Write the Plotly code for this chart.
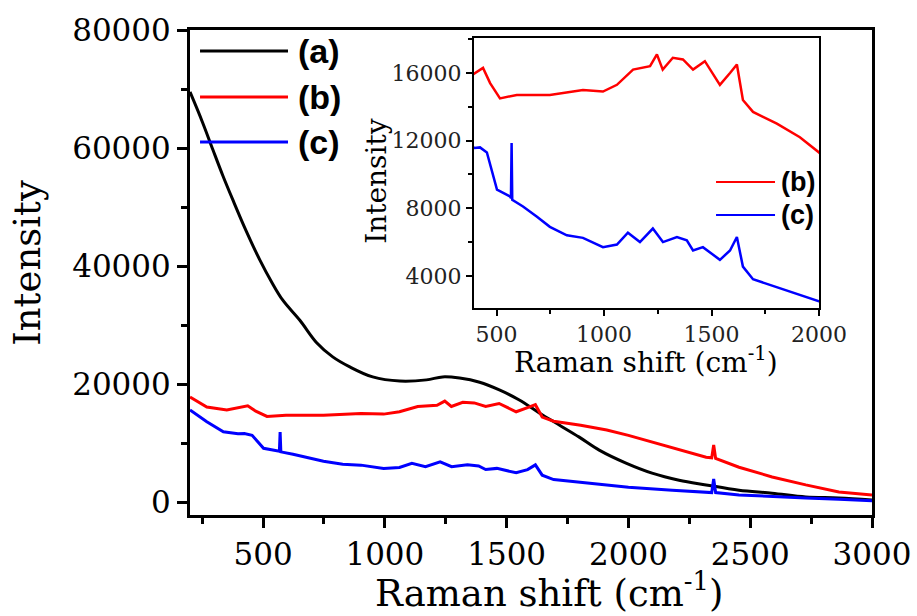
import plotly.graph_objects as go

# ---- data ----
a_x = [200, 250, 294, 335, 376, 430, 487, 535, 581, 651, 720, 786, 856, 950, 1061, 1171, 1237, 1307, 1389,
       1470, 1552, 1634, 1716, 1798, 1880, 1990, 2097, 2208, 2319, 2454, 2590, 2728, 2864, 3000]
a_y = [69500, 64500, 59700, 55300, 51200, 46000, 41000, 37300, 34200, 30800, 27000, 24600, 22900, 21200, 20500, 20700, 21200, 21000, 20300,
       19000, 17300, 15100, 13050, 11000, 8800, 6600, 4900, 3700, 2900, 2000, 1500, 850, 700, 350]

b_x = [200, 269, 351, 397, 437, 470, 516, 594, 748, 902, 995, 1060, 1135, 1214, 1246, 1273,
       1320, 1367, 1414, 1469, 1539, 1586, 1618, 1646, 1693, 1804, 1911, 2000, 2180, 2319,
       2342, 2350, 2358, 2454, 2590, 2728, 2864, 3000]
b_y = [17800, 16100, 15600, 16000, 16300, 15400, 14500, 14700, 14700, 15000, 14900, 15300, 16200, 16400, 17100, 16200,
       16900, 16800, 16200, 16700, 15300, 16000, 16500, 14400, 13700, 13000, 12200, 11300, 9150, 7600,
       7500, 9650, 7400, 5900, 4250, 2900, 1700, 1200]

c_x = [200, 269, 337, 397, 423, 455, 502, 562, 567, 570, 573, 623, 688, 748, 827, 902, 995,
       1060, 1111, 1167, 1227, 1274, 1339, 1385, 1414, 1460, 1539, 1586, 1618, 1646, 1693, 1832,
       2000, 2180, 2342, 2350, 2358, 2454, 2590, 2728, 2864, 3000]
c_y = [15600, 13600, 11900, 11570, 11600, 11300, 9100, 8700, 8600, 11860, 8500, 8100, 7500, 6900, 6400, 6250, 5700,
       5850, 6550, 6000, 6800, 6000, 6300, 6100, 5500, 5700, 4950, 5500, 6300, 4550, 3800, 3200,
       2500, 2000, 1600, 3900, 1600, 1200, 1000, 700, 450, 200]

labels = ["(a)", "(b)", "(c)"]
colors = ["#000000", "#ff0000", "#0000ff"]

main_xticks = [500, 1000, 1500, 2000, 2500, 3000]
main_yticks = [0, 20000, 40000, 60000, 80000]
inset_xticks = [500, 1000, 1500, 2000]
inset_yticks = [4000, 8000, 12000, 16000]

SERIF = "DejaVu Serif"
SANS = "Liberation Sans"

fig = go.Figure()
shapes_line = ["spline", "linear", "linear"]
for xs, ys, col, sh in zip([a_x, b_x, c_x], [a_y, b_y, c_y], colors, shapes_line):
    fig.add_trace(go.Scatter(x=xs, y=ys, mode="lines", line=dict(color=col, width=3, shape=sh),
                             showlegend=False, xaxis="x", yaxis="y"))
for xs, ys, col in zip([b_x, c_x], [b_y, c_y], colors[1:]):
    fig.add_trace(go.Scatter(x=xs, y=ys, mode="lines", line=dict(color=col, width=2.5),
                             showlegend=False, xaxis="x2", yaxis="y2"))

main_ax = dict(showline=True, linewidth=3, linecolor="black", mirror=True,
               ticks="outside", ticklen=10, tickwidth=3, tickcolor="black",
               showgrid=False, zeroline=False, automargin=False, tickformat="d",
               tickfont=dict(family=SERIF, size=31, color="black"))
inset_ax = dict(showline=True, linewidth=2, linecolor="black", mirror=True,
                ticks="outside", ticklen=6, tickwidth=2, tickcolor="black",
                showgrid=False, zeroline=False, automargin=False, tickformat="d",
                tickfont=dict(family=SERIF, size=22, color="#222"))

fig.update_layout(
    width=917, height=616,
    margin=dict(l=190, r=45, t=30, b=101),
    paper_bgcolor="white", plot_bgcolor="white",
    xaxis=dict(main_ax, range=[200, 3000], tickvals=main_xticks,
               minor=dict(dtick=250, tick0=0, ticklen=6, tickwidth=3, ticks="outside", tickcolor="black")),
    yaxis=dict(main_ax, range=[-2200, 80000], tickvals=main_yticks,
               minor=dict(dtick=10000, tick0=0, ticklen=6, tickwidth=3, ticks="outside", tickcolor="black")),
    xaxis2=dict(inset_ax, domain=[0.4164, 0.9223], anchor="y2", range=[395, 2000], tickvals=inset_xticks,
                minor=dict(dtick=250, tick0=0, ticklen=4, tickwidth=2, ticks="outside", tickcolor="black")),
    yaxis2=dict(inset_ax, domain=[0.4268, 0.9835], anchor="x2", range=[2100, 18070], tickvals=inset_yticks,
                minor=dict(dtick=2000, tick0=0, ticklen=4, tickwidth=2, ticks="outside", tickcolor="black")),
)

# inset background
fig.add_shape(type="rect", xref="x2 domain", yref="y2 domain", x0=0, x1=1, y0=0, y1=1,
              fillcolor="white", line=dict(width=0), layer="below")

ann = []
# axis titles
ann.append(dict(text="Raman shift (cm<sup>-1</sup>)", xref="paper", yref="paper", x=0.526, y=-0.155,
                showarrow=False, xanchor="center", yanchor="middle",
                font=dict(family=SERIF, size=37, color="black")))
ann.append(dict(text="Intensity", xref="paper", yref="paper", x=-0.2375, y=0.52, textangle=-90,
                showarrow=False, xanchor="center", yanchor="middle",
                font=dict(family=SERIF, size=37, color="black")))
ann.append(dict(text="Raman shift (cm<sup>-1</sup>)", xref="paper", yref="paper", x=0.6686, y=0.318,
                showarrow=False, xanchor="center", yanchor="middle",
                font=dict(family=SERIF, size=28, color="black")))
ann.append(dict(text="Intensity", xref="paper", yref="paper", x=0.274, y=0.6887, textangle=-90,
                showarrow=False, xanchor="center", yanchor="middle",
                font=dict(family=SERIF, size=28, color="black")))

# main legend
for lab, col, yy in zip(labels, colors, [0.9567, 0.862, 0.769]):
    fig.add_shape(type="line", xref="paper", yref="paper", x0=0.0147, x1=0.1437, y0=yy, y1=yy,
                  line=dict(color=col, width=3))
    ann.append(dict(text="<b>%s</b>" % lab, xref="paper", yref="paper", x=0.156, y=yy,
                    showarrow=False, xanchor="left", yanchor="middle",
                    font=dict(family=SANS, size=34, color="black")))
# inset legend
for lab, col, yy in zip(labels[1:], colors[1:], [0.6866, 0.6186]):
    fig.add_shape(type="line", xref="paper", yref="paper", x0=0.7713, x1=0.8578, y0=yy, y1=yy,
                  line=dict(color=col, width=2))
    ann.append(dict(text="<b>%s</b>" % lab, xref="paper", yref="paper", x=0.863, y=yy,
                    showarrow=False, xanchor="left", yanchor="middle",
                    font=dict(family=SANS, size=27, color="black")))

fig.update_layout(annotations=ann)
fig.write_html("out.html")
